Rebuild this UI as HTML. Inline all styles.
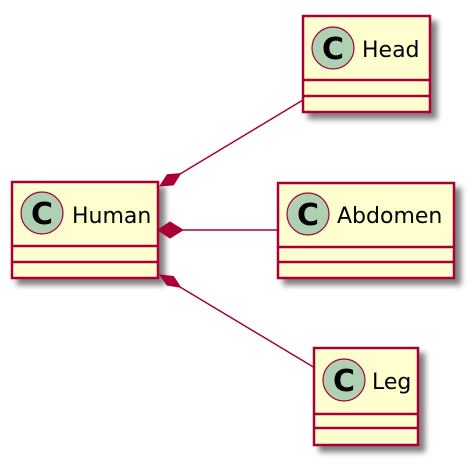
<!DOCTYPE html>
<html><head><style>html,body{margin:0;padding:0;background:#fff;width:474px;height:464px;overflow:hidden}</style></head>
<body>
<svg width="474" height="464" xmlns="http://www.w3.org/2000/svg" font-family="DejaVu Sans, sans-serif">
<defs><filter id="sh" x="-20%" y="-20%" width="150%" height="150%"><feGaussianBlur in="SourceAlpha" stdDeviation="3"/><feOffset dx="6" dy="6"/><feComponentTransfer><feFuncA type="linear" slope="0.5"/></feComponentTransfer><feMerge><feMergeNode/><feMergeNode in="SourceGraphic"/></feMerge></filter></defs>
<g stroke="#A80036" fill="#FEFECE" stroke-width="2.5">
<rect x="12" y="182" width="146" height="96" filter="url(#sh)"/>
<rect x="303" y="16" width="127" height="96" filter="url(#sh)"/>
<rect x="278" y="183" width="176" height="95" filter="url(#sh)"/>
<rect x="314" y="348" width="104" height="97" filter="url(#sh)"/>
<path d="M12 246H158M12 262H158M303 80H430M303 96H430M278 247H454M278 262H454M314 414H418M314 428H418" fill="none"/>
</g>
<g stroke="#A80036" stroke-width="1.5" fill="none">
<path d="M180 174L303 100M183 230H278M180 287L315 368"/>
</g>
<g fill="#A80036" stroke="#A80036">
<polygon points="160,186 173.4,184.9 180.5,173.6 167.2,174.7"/>
<polygon points="158,230 170,222 183,230 170,238"/>
<polygon points="160,275 167,285 180.6,287.3 173.4,276.5"/>
</g>
<g fill="#ADD1B2" stroke="#A80036" stroke-width="1.2">
<circle cx="42" cy="213" r="21"/><circle cx="333" cy="48" r="21"/><circle cx="308" cy="214" r="21"/><circle cx="344" cy="380" r="21"/>
</g>
<g font-weight="bold" font-size="30" text-anchor="middle" fill="#000">
<text x="42" y="224">C</text><text x="333" y="59">C</text><text x="308" y="225">C</text><text x="344" y="391">C</text>
</g>
<g font-size="22" fill="#000">
<text x="72" y="223">Human</text><text x="362" y="57">Head</text><text x="337" y="223">Abdomen</text><text x="372" y="389">Leg</text>
</g>
</svg>
</body></html>
